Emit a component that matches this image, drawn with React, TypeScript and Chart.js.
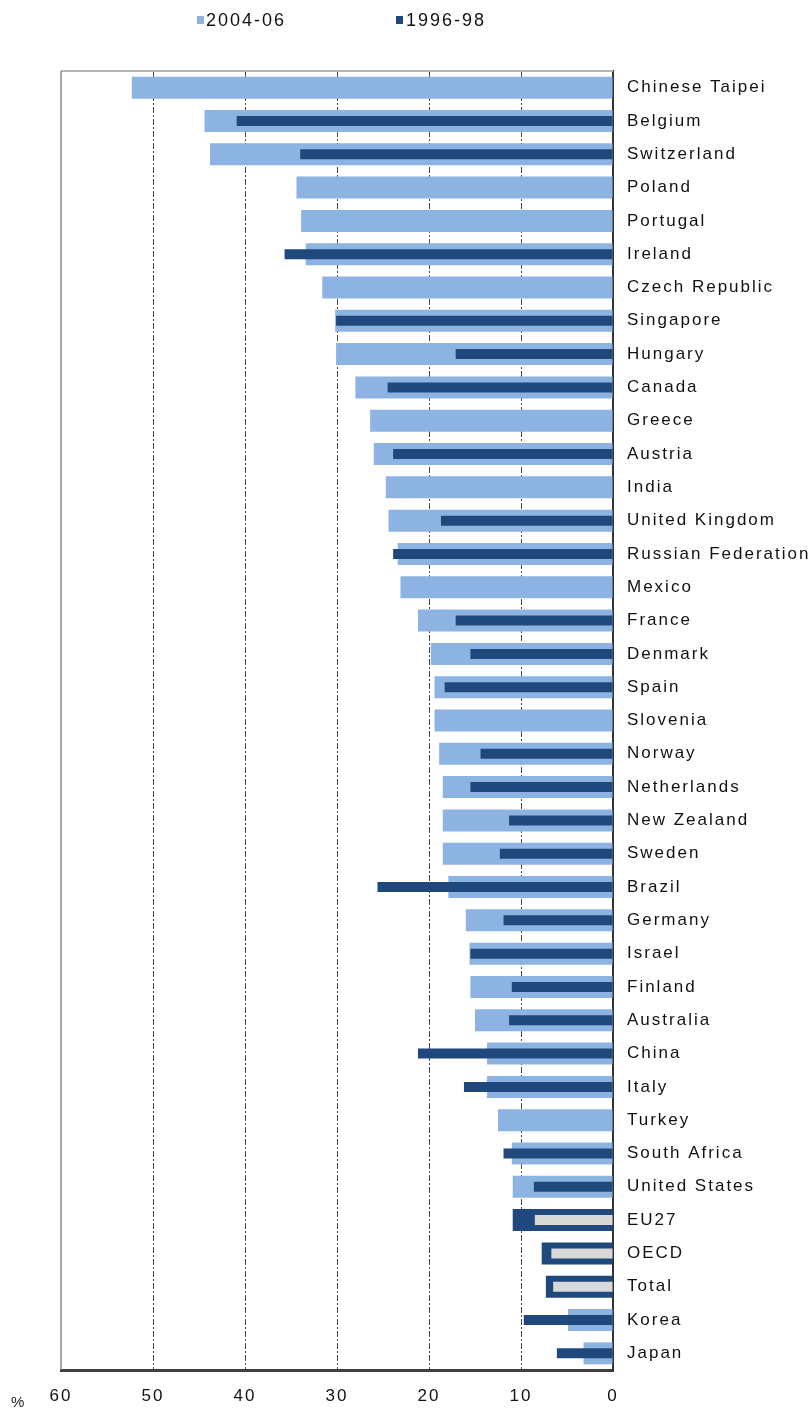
import React, { useEffect, useRef } from "react";
import { Chart, registerables } from "chart.js";

Chart.register(...registerables);

const categories = [
  "Chinese Taipei", "Belgium", "Switzerland", "Poland", "Portugal", "Ireland",
  "Czech Republic", "Singapore", "Hungary", "Canada", "Greece", "Austria",
  "India", "United Kingdom", "Russian Federation", "Mexico", "France", "Denmark",
  "Spain", "Slovenia", "Norway", "Netherlands", "New Zealand", "Sweden",
  "Brazil", "Germany", "Israel", "Finland", "Australia", "China", "Italy",
  "Turkey", "South Africa", "United States", "EU27", "OECD", "Total", "Korea", "Japan",
];

const values2004 = [
  52.3, 44.4, 43.8, 34.4, 33.9, 33.4, 31.6, 30.2, 30.1, 28.0, 26.4, 26.0,
  24.7, 24.4, 23.4, 23.1, 21.2, 19.8, 19.4, 19.4, 18.9, 18.5, 18.5, 18.5,
  17.9, 16.0, 15.6, 15.5, 15.0, 13.7, 13.7, 12.5, 11.0, 10.9, 8.5, 6.7, 6.5, 4.9, 3.2,
];

const values1996 = [
  null, 40.9, 34.0, null, null, 35.7, null, 30.1, 17.1, 24.5, null, 23.9,
  null, 18.7, 23.9, null, 17.1, 15.5, 18.3, null, 14.4, 15.5, 11.3, 12.3,
  25.6, 11.9, 15.5, 11.0, 11.3, 21.2, 16.2, null, 11.9, 8.6, 10.9, 7.75, 7.3, 9.7, 6.1,
];

const aggregates = ["EU27", "OECD", "Total"];
const seriesNames = ["2004-06", "1996-98"];

const LIGHT = "#8db3e2";
const DARK = "#1f497d";
const GREY = "#d9d9d9";
const FONT = "'Liberation Sans', Arial, sans-serif";

export default function App() {
  const ref = useRef<HTMLCanvasElement | null>(null);

  useEffect(() => {
    if (!ref.current) return;
    const isAgg = categories.map((c) => aggregates.includes(c));
    const pick = (arr: (number | null)[], agg: boolean) =>
      arr.map((v, i) => (isAgg[i] === agg ? v : null));

    const framePlugin = {
      id: "frame",
      beforeDraw(chart: any) {
        chart.ctx.letterSpacing = "2px";
      },
      afterDraw(chart: any) {
        const { ctx, chartArea: a } = chart;
        ctx.save();
        ctx.letterSpacing = "0px";
        ctx.setLineDash([]);
        ctx.strokeStyle = "#b4b4b4";
        ctx.lineWidth = 2;
        ctx.beginPath();
        ctx.moveTo(a.left, a.top);
        ctx.lineTo(a.right, a.top);
        ctx.stroke();
        ctx.strokeStyle = "#8a8a8a";
        ctx.lineWidth = 1.5;
        ctx.beginPath();
        ctx.moveTo(a.left, a.top);
        ctx.lineTo(a.left, a.bottom);
        ctx.stroke();
        ctx.fillStyle = "#222";
        ctx.font = `15px ${FONT}`;
        ctx.textBaseline = "middle";
        ctx.textAlign = "left";
        ctx.fillText("%", 11, 1403);
        ctx.restore();
      },
    };

    const chart = new Chart(ref.current, {
      type: "bar",
      data: {
        labels: categories,
        datasets: [
          {
            label: seriesNames[1],
            data: pick(values1996, false),
            backgroundColor: DARK,
            barPercentage: 0.3,
            categoryPercentage: 1,
            grouped: false,
            order: 0,
          },
          {
            label: seriesNames[0] + " agg",
            data: pick(values2004, true),
            backgroundColor: GREY,
            barPercentage: 0.3,
            categoryPercentage: 1,
            grouped: false,
            order: 1,
          },
          {
            label: seriesNames[1] + " agg",
            data: pick(values1996, true),
            backgroundColor: DARK,
            barPercentage: 0.66,
            categoryPercentage: 1,
            grouped: false,
            order: 2,
          },
          {
            label: seriesNames[0],
            data: pick(values2004, false),
            backgroundColor: LIGHT,
            barPercentage: 0.66,
            categoryPercentage: 1,
            grouped: false,
            order: 3,
          },
        ],
      },
      options: {
        indexAxis: "y",
        animation: false,
        responsive: true,
        maintainAspectRatio: false,
        layout: { padding: { left: 61, top: 71, right: 0, bottom: 0 } },
        plugins: {
          legend: { display: false },
          tooltip: { enabled: false },
        },
        scales: {
          x: {
            type: "linear",
            position: "bottom",
            min: 0,
            max: 60,
            reverse: true,
            ticks: {
              stepSize: 10,
              color: "#111",
              padding: 16,
              font: { family: FONT, size: 17 },
            },
            grid: {
              display: true,
              drawTicks: false,
              lineWidth: 1,
              color: (c: any) =>
                c.tick && (c.tick.value === 0 || c.tick.value === 60)
                  ? "rgba(0,0,0,0)"
                  : "#484848",
            },
            border: { display: true, color: "#404040", width: 3, dash: [6, 2, 2, 2] },
            afterFit: (s: any) => {
              s.height = 44;
            },
          },
          y: {
            type: "category",
            position: "right",
            ticks: {
              autoSkip: false,
              color: "#111",
              padding: 14,
              font: { family: FONT, size: 17 },
            },
            grid: { display: false, drawTicks: false },
            border: { display: true, color: "#333", width: 2 },
            afterFit: (s: any) => {
              s.width = 199;
            },
          },
        },
      },
      plugins: [framePlugin],
    });

    return () => chart.destroy();
  }, []);

  const legendText: React.CSSProperties = {
    position: "absolute",
    top: 9,
    fontFamily: FONT,
    fontSize: 18,
    lineHeight: "22px",
    letterSpacing: "2px",
    color: "#111",
  };
  const box = (bg: string, left: number): React.CSSProperties => ({
    position: "absolute",
    left,
    top: 16,
    width: 7,
    height: 8,
    background: bg,
  });

  return (
    <div style={{ position: "absolute", left: 0, top: 0, width: 812, height: 1414, background: "#fff" }}>
      <canvas ref={ref} />
      <div style={box(LIGHT, 197)} />
      <div style={{ ...legendText, left: 206 }}>{seriesNames[0]}</div>
      <div style={box(DARK, 396)} />
      <div style={{ ...legendText, left: 406 }}>{seriesNames[1]}</div>
    </div>
  );
}
